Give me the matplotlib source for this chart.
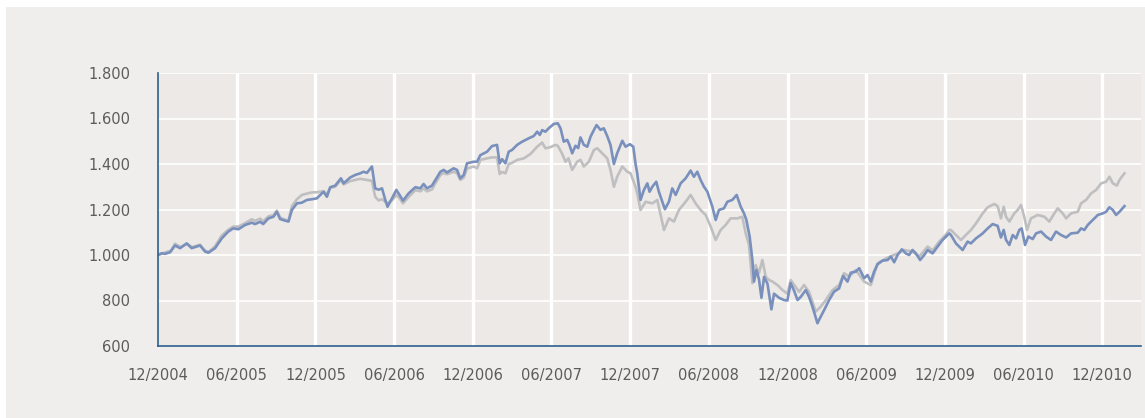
import matplotlib
matplotlib.use("Agg")
import matplotlib.pyplot as plt
from matplotlib.patches import Rectangle

# Zeit in Monaten seit 12/2004, Werte indexiert (Start = 1.000)
blau_t = [0.0, 0.3, 0.53, 0.92, 1.30, 1.68, 2.19, 2.57, 3.21, 3.59, 3.84, 4.35, 4.86, 5.34, 5.73,
          6.13, 6.64, 7.15, 7.40, 7.79, 8.02, 8.42, 8.80, 9.06, 9.31, 9.69, 9.95, 10.21, 10.59,
          10.97, 11.35, 11.73, 12.11, 12.62, 12.88, 13.13, 13.51, 13.95, 14.15, 14.66, 15.04,
          15.42, 15.67, 15.93, 16.31, 16.56, 16.82, 17.08, 17.33, 17.50, 17.84, 18.17, 18.42,
          18.68, 19.11, 19.62, 20.0, 20.25, 20.51, 20.89, 21.15, 21.53, 21.78, 22.04, 22.54,
          22.80, 23.05, 23.31, 23.56, 24.07, 24.33, 24.58, 25.09, 25.47, 25.85, 26.05, 26.24,
          26.49, 26.74, 27.0, 27.38, 27.76, 28.27, 28.65, 28.91, 29.11, 29.29, 29.54, 29.79,
          30.18, 30.48, 30.69, 30.94, 31.20, 31.37, 31.58, 31.83, 32.04, 32.21, 32.47, 32.73,
          32.98, 33.24, 33.44, 33.74, 33.99, 34.25, 34.50, 34.76, 35.01, 35.40, 35.65, 35.98,
          36.24, 36.41, 36.54, 36.79, 37.05, 37.31, 37.48, 37.69, 37.99, 38.19, 38.65, 38.96,
          39.21, 39.47, 39.85, 40.23, 40.61, 40.86, 41.12, 41.37, 41.63, 41.89, 42.27, 42.52,
          42.77, 43.15, 43.41, 43.79, 44.12, 44.43, 44.68, 44.86, 45.11, 45.32, 45.44, 45.63,
          45.82, 46.01, 46.21, 46.47, 46.77, 46.97, 47.35, 47.73, 47.99, 48.24, 48.50, 48.76,
          49.01, 49.39, 49.64, 49.90, 50.28, 50.53, 50.79, 51.17, 51.55, 51.93, 52.24, 52.57,
          52.82, 53.21, 53.46, 53.84, 54.10, 54.35, 54.60, 54.86, 55.24, 55.63, 55.88, 56.13,
          56.39, 56.72, 57.02, 57.27, 57.53, 57.79, 58.11, 58.42, 58.68, 59.06, 59.44, 59.82,
          60.08, 60.33, 60.46, 60.84, 61.09, 61.35, 61.73, 61.98, 62.37, 62.88, 63.26, 63.64,
          64.02, 64.27, 64.48, 64.66, 64.91, 65.17, 65.42, 65.67, 65.85, 66.11, 66.36, 66.69,
          66.95, 67.33, 67.71, 68.09, 68.47, 68.85, 69.24, 69.62, 70.13, 70.38, 70.63, 70.89,
          71.27, 71.66, 72.04, 72.29, 72.54, 72.80, 73.05, 73.31, 73.69]
blau_v = [1000, 1008, 1005, 1012, 1042, 1030, 1051, 1030, 1042, 1015, 1010, 1030, 1073, 1102, 1117,
          1113, 1132, 1142, 1136, 1146, 1136, 1161, 1168, 1190, 1158, 1151, 1147, 1198, 1227,
          1230, 1242, 1245, 1249, 1278, 1256, 1298, 1305, 1337, 1315, 1341, 1352,
          1359, 1366, 1361, 1389, 1293, 1287, 1293, 1242, 1212, 1249, 1286, 1264,
          1239, 1271, 1298, 1293, 1312, 1293, 1305, 1330, 1366, 1374, 1363, 1381,
          1374, 1337, 1352, 1403, 1410, 1410, 1439, 1454, 1479, 1484, 1403, 1421,
          1403, 1454, 1462, 1484, 1498, 1513, 1523, 1542, 1528, 1549, 1542, 1557,
          1576, 1579, 1557, 1498, 1506, 1484, 1447, 1480, 1470, 1517, 1484, 1476,
          1520, 1550, 1571, 1550, 1557, 1523, 1484, 1400, 1447, 1502, 1476, 1487,
          1476, 1400, 1359, 1242, 1286, 1315, 1278, 1300, 1322, 1278, 1201, 1235,
          1293, 1264, 1315, 1337, 1371, 1344, 1366, 1330, 1300, 1278, 1212, 1154,
          1198, 1205, 1234, 1242, 1264, 1212, 1183, 1154, 1081, 978, 883, 934,
          894, 812, 904, 874, 761, 830, 812, 802, 800, 876, 843, 802,
          816, 846, 816, 773, 700, 729, 758, 802, 839, 853, 908, 883,
          922, 927, 942, 898, 912, 883, 927, 959, 975, 978, 993, 968,
          1000, 1025, 1007, 1000, 1022, 1007, 978, 1000, 1022, 1007, 1037, 1066,
          1081, 1095, 1088, 1051, 1037, 1022, 1059, 1051, 1073, 1095, 1117, 1136,
          1128, 1077, 1110, 1066, 1044, 1088, 1073, 1110, 1117, 1044, 1081, 1070,
          1095, 1103, 1081, 1066, 1103, 1088, 1077, 1095, 1098, 1117, 1110, 1132,
          1154, 1176, 1183, 1190, 1210, 1198, 1176, 1190, 1215]

grau_t = [0.0, 0.5, 1.0, 1.3, 1.7, 2.2, 2.6, 3.2, 3.6, 3.9, 4.35, 4.86, 5.34, 5.73, 6.13, 6.64,
          7.15, 7.40, 7.79, 8.02, 8.42, 8.80, 9.06, 9.31, 9.69, 9.95, 10.21, 10.59, 10.97, 11.35,
          11.73, 12.11, 12.62, 12.88, 13.13, 13.51, 13.95, 14.15, 14.66, 15.04, 15.42, 15.93,
          16.31, 16.56, 16.82, 17.08, 17.33, 17.50, 17.84, 18.17, 18.42, 18.68, 19.11, 19.62,
          20.0, 20.25, 20.51, 20.89, 21.15, 21.53, 21.78, 22.04, 22.54, 22.80, 23.05, 23.31,
          23.56, 24.07, 24.33, 24.58, 25.09, 25.47, 25.85, 26.05, 26.24, 26.49, 26.74, 27.0,
          27.38, 27.9, 28.4, 28.91, 29.29, 29.54, 29.92, 30.3, 30.48, 30.8, 31.07, 31.3, 31.58,
          31.96, 32.21, 32.47, 32.85, 33.24, 33.49, 33.87, 34.25, 34.50, 34.76, 35.01, 35.40,
          35.78, 36.03, 36.41, 36.54, 36.79, 37.18, 37.69, 38.07, 38.58, 38.96, 39.34, 39.72,
          40.23, 40.61, 40.99, 41.37, 41.76, 42.14, 42.52, 42.90, 43.28, 43.66, 44.17, 44.55,
          44.81, 45.06, 45.32, 45.57, 45.82, 46.08, 46.34, 46.59, 46.85, 47.23, 47.61, 47.99,
          48.24, 48.88, 49.26, 49.64, 50.15, 50.53, 50.92, 51.43, 51.93, 52.31, 52.69, 53.21,
          53.84, 54.35, 54.86, 55.50, 56.39, 56.89, 57.53, 58.04, 58.68, 59.06, 59.57, 60.08,
          60.33, 60.46, 60.84, 61.22, 61.60, 61.98, 62.37, 62.88, 63.26, 63.76, 64.02, 64.27,
          64.48, 64.66, 64.91, 65.29, 65.55, 65.80, 66.05, 66.26, 66.56, 67.08, 67.58, 67.96,
          68.34, 68.60, 68.98, 69.24, 69.62, 70.13, 70.38, 70.76, 71.15, 71.53, 71.91, 72.29,
          72.54, 72.80, 73.11, 73.31, 73.69]
grau_v = [1000, 1010, 1020, 1050, 1035, 1048, 1035, 1045, 1018, 1015, 1038, 1086, 1110, 1125, 1125, 1140,
          1157, 1150, 1160, 1148, 1170, 1175, 1195, 1165, 1155, 1152, 1215, 1245, 1264, 1270,
          1275, 1276, 1280, 1268, 1295, 1300, 1330, 1310, 1325, 1330, 1335, 1330,
          1326, 1256, 1240, 1245, 1234, 1227, 1240, 1264, 1250, 1227, 1255, 1285,
          1280, 1292, 1280, 1288, 1315, 1352, 1360, 1355, 1366, 1360, 1330, 1340,
          1380, 1389, 1381, 1418, 1425, 1429, 1429, 1356, 1365, 1359, 1400, 1405,
          1418, 1425, 1444, 1476, 1494, 1469, 1474, 1484, 1480, 1447, 1410, 1425, 1374,
          1410, 1418, 1389, 1410, 1462, 1469, 1447, 1425, 1374, 1300, 1344, 1389,
          1366, 1359, 1300, 1271, 1198, 1234, 1227, 1242, 1110, 1161, 1147, 1198,
          1234, 1264, 1227, 1198, 1176, 1125, 1066, 1110, 1132, 1161, 1161, 1168,
          1095, 1044, 876, 956, 920, 978, 904, 890, 883, 868, 846, 830,
          890, 838, 868, 838, 751, 773, 802, 846, 868, 920, 905, 934,
          883, 868, 963, 985, 1007, 1022, 1015, 993, 1037, 1020, 1059, 1090,
          1110, 1110, 1088, 1066, 1088, 1110, 1139, 1183, 1210, 1224, 1215, 1161,
          1212, 1168, 1147, 1183, 1198, 1220, 1168, 1110, 1161, 1176, 1168, 1147,
          1183, 1205, 1183, 1161, 1183, 1190, 1227, 1242, 1271, 1286, 1315, 1322,
          1344, 1315, 1305, 1330, 1359]

tick_pos = [0, 6, 12, 18, 24, 30, 36, 42, 48, 54, 60, 66, 72]
tick_labels = ["12/2004", "06/2005", "12/2005", "06/2006", "12/2006", "06/2007", "12/2007",
               "06/2008", "12/2008", "06/2009", "12/2009", "06/2010", "12/2010"]
y_ticks = [600, 800, 1000, 1200, 1400, 1600, 1800]

fig = plt.figure(figsize=(11.45, 4.18), dpi=100, facecolor="white")
# grauer Hintergrund mit schmalem weissen Rand oben/links
bg = Rectangle((6 / 1145, 0), 1, 1 - 7 / 418, transform=fig.transFigure,
               facecolor="#f0eeec", edgecolor="none", zorder=-10)
fig.add_artist(bg)

ax = fig.add_axes([158 / 1145, 72 / 418, 983 / 1145, 273 / 418])
ax.set_zorder(1)
ax.set_facecolor("#ece9e6")

ax.plot(grau_t, grau_v, color="#bfbfc1", lw=1.9, zorder=3, solid_joinstyle="round")
ax.plot(blau_t, blau_v, color="#7990bd", lw=1.9, zorder=4, solid_joinstyle="round")

ax.set_xlim(0, 74.95)
ax.set_ylim(600, 1800)

for t in tick_pos[1:]:
    ax.axvline(t, color="white", lw=2.4, zorder=1)
for v in y_ticks[1:]:
    ax.axhline(v, color="white", lw=1.2, zorder=1)

ax.set_xticks(tick_pos)
ax.set_xticklabels(tick_labels)
ax.set_yticks(y_ticks)
ax.set_yticklabels([f"{v:,}".replace(",", ".") for v in y_ticks])
ax.tick_params(axis="both", length=0, labelsize=10.5, colors="#5c5c5c")
ax.tick_params(axis="y", pad=20)
ax.tick_params(axis="x", pad=16)

for s in ["top", "right"]:
    ax.spines[s].set_visible(False)
for s in ["left", "bottom"]:
    ax.spines[s].set_color("#2f5f8e")
    ax.spines[s].set_linewidth(1.2)
    ax.spines[s].set_zorder(5)

fig.savefig("out.png", dpi=100, facecolor=fig.get_facecolor())
